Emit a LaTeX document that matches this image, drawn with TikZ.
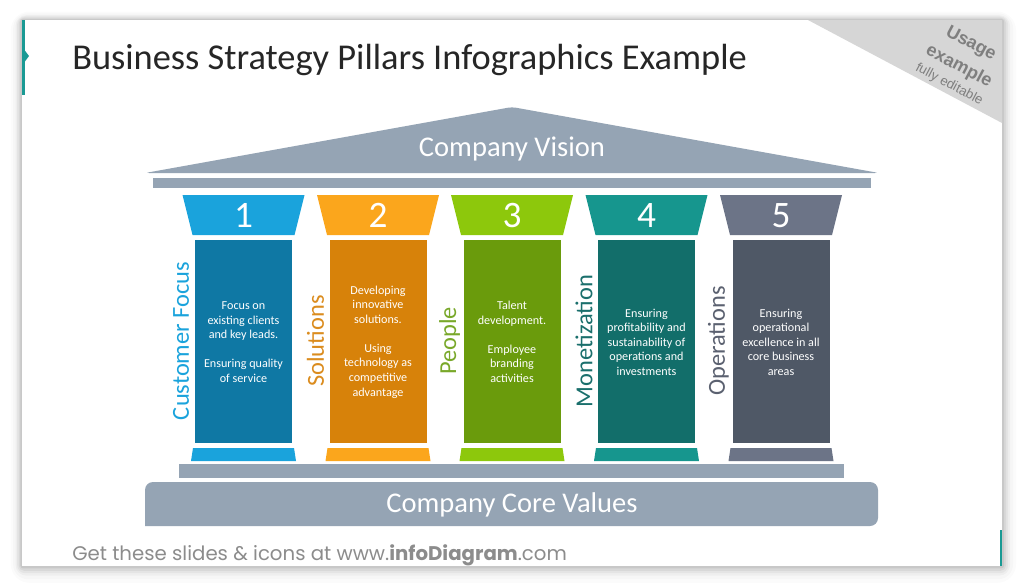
\documentclass[tikz,border=0pt]{standalone}
\usepackage{fontspec}
\setmainfont{Carlito}
\newfontfamily\ribbonfont{Liberation Sans}
\newfontfamily\footfont{Poppins}
\definecolor{roofgray}{HTML}{95A4B4}
\definecolor{capA}{HTML}{1AA3DC}\definecolor{bodA}{HTML}{0F78A4}\definecolor{labA}{HTML}{1AA3DC}
\definecolor{capB}{HTML}{FBA61C}\definecolor{bodB}{HTML}{D7820A}\definecolor{labB}{HTML}{DB8C1E}
\definecolor{capC}{HTML}{8DC80C}\definecolor{bodC}{HTML}{6A9B0C}\definecolor{labC}{HTML}{79A82A}
\definecolor{capD}{HTML}{16968E}\definecolor{bodD}{HTML}{126E6A}\definecolor{labD}{HTML}{1A6F6C}
\definecolor{capE}{HTML}{6C7487}\definecolor{bodE}{HTML}{4F5866}\definecolor{labE}{HTML}{5B6170}
\definecolor{accent}{HTML}{1A9A94}
\definecolor{ribbon}{HTML}{D6D6D6}
\definecolor{ribbontext}{HTML}{7F7F7F}
\definecolor{foottext}{HTML}{8C8C8C}
\definecolor{titletext}{HTML}{262626}
\tikzset{
  numtext/.style={text=white,font=\fontsize{28}{30}\selectfont,inner sep=0pt},
  bodytext/.style={text=white,font=\fontsize{9.1}{10.9}\selectfont,align=center,inner sep=0pt},
  sidelabel/.style={font=\fontsize{18.3}{20}\selectfont,rotate=90,inner sep=0pt},
  bandtext/.style={text=white,font=\fontsize{21.4}{24}\selectfont,inner sep=0pt},
  ribtext/.style={text=ribbontext,rotate=-28,inner sep=0pt,align=center},
}
\newcommand\drawpillar[7]{%
  \fill[#3] (#2-61,195) -- (#2+61,195) -- (#2+51,235) -- (#2-51,235) -- cycle;
  \node[numtext] (num#1) at (#2,215.5) {#1};
  \fill[#4] (#2-48.5,240) rectangle (#2+48.5,443);
  \node[bodytext] (body#1) at (#2,342) {#7};
  \fill[#3] (#2-50.5,448) -- (#2+50.5,448) -- (#2+52.5,461) -- (#2-52.5,461) -- cycle;
  \node[sidelabel,text=#5] (lab#1) at (#2-62.5,341) {#6};
}
\begin{document}
\begin{tikzpicture}[x=0.75pt,y=-0.75pt]
\useasboundingbox (0,0) rectangle (1024,587);
\fill[white] (0,0) rectangle (1024,587);
% slide shadow
\foreach \d/\o in {14/0.015,11/0.02,8/0.03,6/0.04,4/0.05,2/0.07}{
  \fill[black,opacity=\o,rounded corners=\d] (22-\d*0.8,20-\d*0.6) rectangle (1002+\d,566+\d*1.2);
}
\fill[white] (22,20) rectangle (1002,566);
% accents
\fill[accent] (22,20) rectangle (24.5,95);
\fill[accent] (24.5,50) -- (29,56) -- (24.5,62) -- cycle;
\fill[accent] (999.5,530) rectangle (1002,566);
% ribbon
\fill[ribbon] (808,20) -- (1002,20) -- (1002,123) -- cycle;
\node[ribtext,font=\ribbonfont\fontsize{13.5}{19.4}\selectfont] (ribbonlabel) at (960.4,63.4)
  {\textbf{Usage}\\\textbf{example}\\[-5pt]{\fontsize{10}{12}\selectfont fully editable}};
% title
\node[anchor=base west,inner sep=0pt,font=\fontsize{27.3}{30}\selectfont,text=titletext] (title) at (72,69) {Business Strategy Pillars Infographics Example};
% roof
\fill[roofgray,rounded corners=3] (512,173) -- (145,173) -- (512,107) -- (879,173) -- cycle;
\node[bandtext] (vision) at (512,149) {Company Vision};
\fill[roofgray] (153,178) rectangle (871,187.5);
% pillars
\drawpillar{1}{243.5}{capA}{bodA}{labA}{Customer Focus}{Focus on\\existing clients\\and key leads.\\[10.9pt]Ensuring quality\\of service}
\drawpillar{2}{378}{capB}{bodB}{labB}{Solutions}{Developing\\innovative\\solutions.\\[10.9pt]Using\\technology as\\competitive\\advantage}
\drawpillar{3}{512}{capC}{bodC}{labC}{People}{Talent\\development.\\[10.9pt]Employee\\branding\\activities}
\drawpillar{4}{646.5}{capD}{bodD}{labD}{Monetization}{Ensuring\\profitability and\\sustainability of\\operations and\\investments}
\drawpillar{5}{781}{capE}{bodE}{labE}{Operations}{Ensuring\\operational\\excellence in all\\core business\\areas}
% base
\fill[roofgray] (179,464) rectangle (844,478);
\fill[roofgray,rounded corners=6] (145,526) -- (145,482) -- (878,482) -- (878,526) [sharp corners] -- cycle;
\node[bandtext] (core) at (512,505) {Company Core Values};
% footer
\node[anchor=base west,inner sep=0pt,font=\footfont\fontsize{14.8}{16}\selectfont,text=foottext] (footer) at (72,560) {Get these slides \& icons at www.\textbf{infoDiagram}.com};
\end{tikzpicture}
\end{document}
